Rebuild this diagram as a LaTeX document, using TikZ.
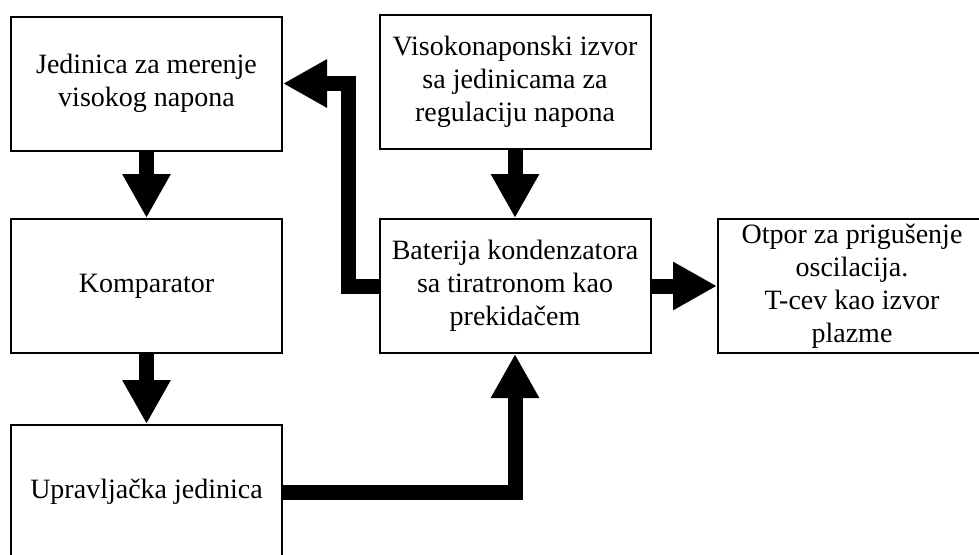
\documentclass[tikz,border=0pt]{standalone}
\usepackage{fontspec}
\setmainfont{Liberation Serif}
\usetikzlibrary{arrows.meta}

\tikzset{
	blok/.style={draw,line width=1.5pt,align=center,inner sep=0pt,
		minimum width=203.25pt,minimum height=100.5pt,
		font=\fontsize{21}{24.75}\selectfont},
	pil/.style={->,line width=11.25pt}
}

\begin{document}
\begin{tikzpicture}[
	x=0.75pt,y=-0.75pt,
	>={Triangle[length=33pt,width=34pt]},
	line join=miter
	]
	\useasboundingbox (0,0) rectangle (979,554);
	\clip (0,0) rectangle (979,554);
	% blokovi
	\node[blok] (merenje) at (146.5,83.5) {Jedinica za merenje\\visokog napona};
	\node[blok] (izvor) at (515,82) {Visokonaponski izvor\\sa jedinicama za\\regulaciju napona};
	\node[blok] (komp) at (146.5,286) {Komparator};
	\node[blok] (baterija) at (515,286) {Baterija kondenzatora\\sa tiratronom kao\\prekidačem};
	\node[blok,minimum width=201pt] (otpor) at (852,286) {Otpor za prigušenje\\oscilacija.\\T-cev kao izvor\\plazme};
	\node[blok] (upr) at (146.5,492) {Upravljačka jedinica};
	% veze
	\draw[pil] (merenje) -- (komp);
	\draw[pil] (komp) -- (upr);
	\draw[pil] (izvor) -- (baterija);
	\draw[pil] (baterija.east) -- (otpor.west);
	\draw[pil] (baterija.west) -- ++(-30,0) |- (merenje.east);
	\draw[pil] (upr.east) -| (baterija.south);
\end{tikzpicture}
\end{document}
